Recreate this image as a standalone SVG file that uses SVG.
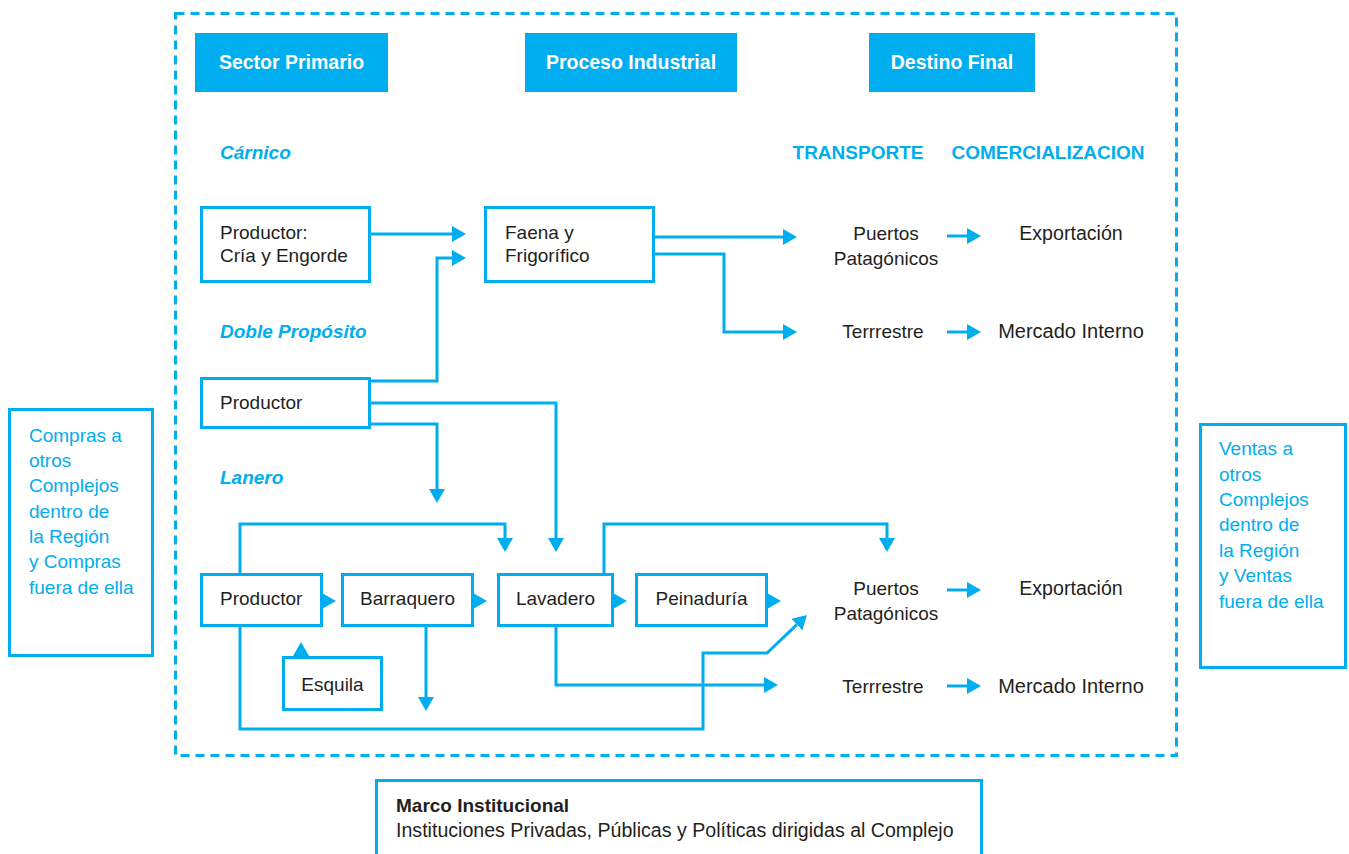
<svg xmlns="http://www.w3.org/2000/svg" width="1349" height="854" viewBox="0 0 1349 854">
<style>
  .frame{fill:none;stroke:#00AEEF;stroke-width:3;stroke-dasharray:9 6}
  .box{fill:#fff;stroke:#00AEEF;stroke-width:3}
  .hdr{fill:#00AEEF}
  .hdrt{font-family:"Liberation Sans",Arial,sans-serif;font-weight:bold;font-size:19.5px;fill:#fff;text-anchor:middle}
  .t{font-family:"Liberation Sans",Arial,sans-serif;font-size:19px;fill:#231F20}
  .c{text-anchor:middle}
  .w{font-size:20px}
  .m{font-size:19.6px}
  .sec{font-family:"Liberation Sans",Arial,sans-serif;font-size:19px;font-weight:bold;font-style:italic;fill:#00AEEF}
  .col{font-family:"Liberation Sans",Arial,sans-serif;font-size:19px;font-weight:bold;fill:#00AEEF;text-anchor:middle}
  .bt{font-family:"Liberation Sans",Arial,sans-serif;font-size:19px;fill:#00AEEF}
  .ln{fill:none;stroke:#00AEEF;stroke-width:3;marker-end:url(#ah)}
  .tri{fill:#00AEEF}
</style>
<defs>
  <marker id="ah" viewBox="0 0 14 16" refX="0" refY="8" markerWidth="14" markerHeight="16" markerUnits="userSpaceOnUse" orient="auto">
    <path d="M0,0 L14,8 L0,16 z" fill="#00AEEF"/>
  </marker>
</defs>
<rect width="1349" height="854" fill="#fff"/>
<rect class="frame" x="175.5" y="13.5" width="1001" height="742"/>

<g id="h-sector"><rect class="hdr" x="195" y="33" width="193" height="59"/><text class="hdrt" x="291.5" y="69">Sector Primario</text></g>
<g id="h-proceso"><rect class="hdr" x="525" y="33" width="212" height="59"/><text class="hdrt" x="631" y="69">Proceso Industrial</text></g>
<g id="h-destino"><rect class="hdr" x="869" y="33" width="166" height="59"/><text class="hdrt" x="952" y="69">Destino Final</text></g>

<g id="labels">
  <text class="sec" x="220" y="159">Cárnico</text>
  <text class="sec" x="220" y="338">Doble Propósito</text>
  <text class="sec" x="220" y="484">Lanero</text>
  <text class="col" x="858" y="159">TRANSPORTE</text>
  <text class="col" x="1048" y="159">COMERCIALIZACION</text>
</g>

<g id="n-productor-cria"><rect class="box" x="201.5" y="207.5" width="168" height="74"/><text class="t" x="220" y="239">Productor:</text><text class="t" x="220" y="262">Cría y Engorde</text></g>
<g id="n-faena"><rect class="box" x="485.5" y="207.5" width="168" height="74"/><text class="t" x="505" y="239">Faena y</text><text class="t" x="505" y="262">Frigorífico</text></g>
<g id="n-puertos1"><text class="t c" x="886" y="240">Puertos</text><text class="t c" x="886" y="265">Patagónicos</text></g>
<g id="n-export1"><text class="t c m" x="1071" y="240">Exportación</text></g>
<g id="n-terr1"><text class="t c" x="883" y="338">Terrrestre</text></g>
<g id="n-mercado1"><text class="t c w" x="1071" y="338">Mercado Interno</text></g>

<g id="n-productor-doble"><rect class="box" x="201.5" y="378.5" width="168" height="49"/><text class="t" x="220" y="409">Productor</text></g>

<g id="n-productor-lanero"><rect class="box" x="201.5" y="574.5" width="120" height="51"/><text class="t" x="220" y="605">Productor</text></g>
<g id="n-barraquero"><rect class="box" x="342.5" y="574.5" width="130" height="51"/><text class="t c" x="407.5" y="605">Barraquero</text></g>
<g id="n-lavadero"><rect class="box" x="498.5" y="574.5" width="114" height="51"/><text class="t c" x="555.5" y="605">Lavadero</text></g>
<g id="n-peinaduria"><rect class="box" x="636.5" y="574.5" width="130" height="51"/><text class="t c" x="701.5" y="605">Peinaduría</text></g>
<g id="n-esquila"><rect class="box" x="283.5" y="657.5" width="98" height="52"/><text class="t c" x="332.5" y="691">Esquila</text></g>
<g id="n-puertos2"><text class="t c" x="886" y="595">Puertos</text><text class="t c" x="886" y="620">Patagónicos</text></g>
<g id="n-export2"><text class="t c m" x="1071" y="595">Exportación</text></g>
<g id="n-terr2"><text class="t c" x="883" y="693">Terrrestre</text></g>
<g id="n-mercado2"><text class="t c w" x="1071" y="693">Mercado Interno</text></g>

<g id="n-compras"><rect class="box" x="9.5" y="409.5" width="143" height="246"/>
  <text class="bt" x="29" y="442">Compras a</text>
  <text class="bt" x="29" y="467">otros</text>
  <text class="bt" x="29" y="492">Complejos</text>
  <text class="bt" x="29" y="518">dentro de</text>
  <text class="bt" x="29" y="543">la Región</text>
  <text class="bt" x="29" y="568">y Compras</text>
  <text class="bt" x="29" y="594">fuera de ella</text>
</g>
<g id="n-ventas"><rect class="box" x="1200.5" y="424.5" width="145" height="243"/>
  <text class="bt" x="1219" y="455">Ventas a</text>
  <text class="bt" x="1219" y="481">otros</text>
  <text class="bt" x="1219" y="506">Complejos</text>
  <text class="bt" x="1219" y="531">dentro de</text>
  <text class="bt" x="1219" y="557">la Región</text>
  <text class="bt" x="1219" y="582">y Ventas</text>
  <text class="bt" x="1219" y="608">fuera de ella</text>
</g>
<g id="n-marco"><rect class="box" x="376.5" y="780.5" width="605" height="90"/>
  <text class="t" x="396" y="812" font-weight="bold">Marco Institucional</text>
  <text class="t m" x="396" y="837">Instituciones Privadas, Públicas y Políticas dirigidas al Complejo</text>
</g>

<g id="connectors">
  <path class="ln" d="M370,234 H452"/>
  <path class="ln" d="M370,381 H437 V258 H452"/>
  <path class="ln" d="M654,237 H783"/>
  <path class="ln" d="M654,254 H724 V332 H783"/>
  <path class="ln" d="M947,236 H967"/>
  <path class="ln" d="M947,332 H967"/>
  <path class="ln" d="M370,403 H556 V538"/>
  <path class="ln" d="M370,424 H437 V489"/>
  <path class="ln" d="M240,574 V524 H505 V538"/>
  <path class="ln" d="M604,574 V524 H887 V538"/>
  <polygon class="tri" points="322,593 336,601 322,609"/>
  <polygon class="tri" points="473,593 487,601 473,609"/>
  <polygon class="tri" points="613,593 627,601 613,609"/>
  <polygon class="tri" points="767,593 781,601 767,609"/>
  <polygon class="tri" points="293,656 301,642 309,656"/>
  <path class="ln" d="M426,626 V697"/>
  <path class="ln" d="M556,626 V685 H764"/>
  <path class="ln" d="M240,626 V729 H703 V653 H767 L796.8,624.6"/>
  <path class="ln" d="M947,590 H967"/>
  <path class="ln" d="M947,686 H967"/>
</g>
</svg>
